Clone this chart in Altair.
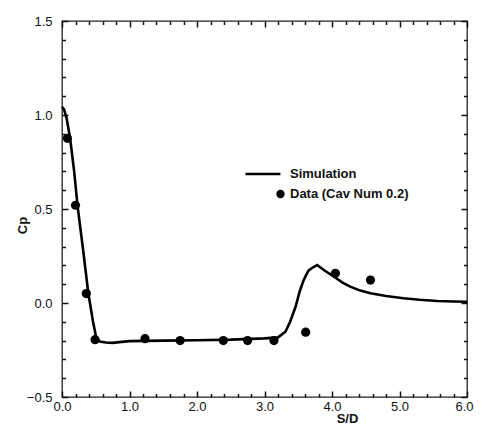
import altair as alt
import pandas as pd

# Simulation curve
sim_x = [0.0, 0.03, 0.07, 0.12, 0.18, 0.23, 0.31, 0.39, 0.46, 0.51, 0.56, 0.65, 0.75,
         0.85, 1.0, 1.5, 2.0, 2.5, 3.0, 3.2, 3.31, 3.38, 3.46, 3.52, 3.58, 3.65, 3.72,
         3.78, 3.9, 4.03, 4.15, 4.27, 4.42, 4.57, 4.8, 5.06, 5.3, 5.56, 5.8, 6.0]
sim_y = [1.044, 1.03, 0.98, 0.876, 0.70, 0.518, 0.29, 0.052, -0.10, -0.19, -0.205, -0.21,
         -0.212, -0.208, -0.203, -0.20, -0.198, -0.195, -0.188, -0.183, -0.153, -0.10,
         -0.02, 0.06, 0.122, 0.172, 0.19, 0.202, 0.17, 0.140, 0.11, 0.087, 0.066, 0.052,
         0.037, 0.025, 0.017, 0.011, 0.008, 0.007]

# Experimental data points
data_x = [0.08, 0.20, 0.36, 0.49, 1.23, 1.75, 2.39, 2.75, 3.14, 3.61, 4.05, 4.57]
data_y = [0.876, 0.52, 0.05, -0.195, -0.19, -0.20, -0.20, -0.20, -0.20, -0.155, 0.158, 0.122]

series = ["Simulation", "Data (Cav Num 0.2)"]

x_major = [0.0, 1.0, 2.0, 3.0, 4.0, 5.0, 6.0]
x_minor = [round(i * 0.2, 1) for i in range(31) if i % 5 != 0]
y_major = [-0.5, 0.0, 0.5, 1.0, 1.5]
y_minor = [round(-0.5 + i * 0.1, 1) for i in range(21) if i % 5 != 0]

sim_df = pd.DataFrame({"x": sim_x, "y": sim_y})
pts_df = pd.DataFrame({"x": data_x, "y": data_y, "series": series[1]})

FONT = "Liberation Sans"
INK = "#111111"
xs = alt.Scale(domain=[0, 6], nice=False, zero=False)
ys = alt.Scale(domain=[-0.5, 1.5], nice=False, zero=False)

MAJOR = 6
MINOR = 3.5


def tick_axis(orient, values, size):
    return alt.Axis(values=values, orient=orient, offset=-size, tickSize=size,
                    tickWidth=1.5, tickColor=INK, labels=False, title="",
                    domain=False, grid=False)


x_bottom_major = alt.Axis(values=x_major, format=".1f", orient="bottom", offset=-MAJOR,
                          tickSize=MAJOR, tickWidth=1.5, tickColor=INK, domain=False,
                          grid=False, labelFlush=False,
                          labelPadding=3, labelFont=FONT, labelFontSize=13, labelColor=INK,
                          labelOffset={"condition": {"test": "datum.value == 6", "value": -3},
                                       "value": 0},
                          title="S/D", titleFont=FONT, titleFontSize=13, titleFontWeight="bold",
                          titleColor=INK, titleX=285, titleY=27, titleAlign="center",
                          titleBaseline="middle")
y_left_major = alt.Axis(values=y_major, format=".1f", orient="left", offset=-MAJOR,
                        tickSize=MAJOR, tickWidth=1.5, tickColor=INK, domain=False,
                        grid=False, labelFlush=False,
                        labelPadding=10, labelFont=FONT, labelFontSize=13, labelColor=INK,
                        title="Cp", titleFont=FONT, titleFontSize=13, titleFontWeight="bold",
                        titleColor=INK, titleX=-46, titleY=204, titleAngle=270,
                        titleAlign="center", titleBaseline="middle")

line = alt.Chart(sim_df).mark_line(color="black", strokeWidth=2.6).encode(
    x=alt.X("x:Q", scale=xs, axis=x_bottom_major),
    y=alt.Y("y:Q", scale=ys, axis=y_left_major),
)

points = alt.Chart(pts_df).mark_point(filled=True, color="black", size=85, opacity=1).encode(
    x=alt.X("x:Q", scale=xs, axis=tick_axis("bottom", x_minor, MINOR)),
    y=alt.Y("y:Q", scale=ys, axis=tick_axis("left", y_minor, MINOR)),
)

# legend glyphs (unit-square paths, drawn with a stroke): a line, and a solid dot
line_path = "M-1.58,0H2.1"
circle_path = ("M1.80,0A0.305,0.305,0,1,1,2.41,0A0.305,0.305,0,1,1,1.80,0Z"
               "M1.98,0A0.125,0.125,0,1,1,2.23,0A0.125,0.125,0,1,1,1.98,0Z")

legend_layer = alt.Chart(pts_df).mark_point(filled=False, color="black", opacity=1,
                                            strokeWidth=2.5).encode(
    x=alt.X("x:Q", scale=xs, axis=tick_axis("top", x_major, MAJOR)),
    y=alt.Y("y:Q", scale=ys, axis=tick_axis("right", y_major, MAJOR)),
    shape=alt.Shape("series:N",
                    scale=alt.Scale(domain=series, range=[line_path, circle_path]),
                    legend=alt.Legend(title=None, orient="none", legendX=187.5, legendY=142,
                                      symbolSize=361, symbolStrokeWidth=2.5,
                                      symbolStrokeColor="black",
                                      symbolOpacity=1,
                                      labelFont=FONT, labelFontSize=13, labelFontWeight="bold",
                                      labelColor=INK, labelOffset=18.5, labelLimit=400,
                                      rowPadding=2, padding=0, symbolOffset=0)),
).transform_filter("false")

extra = alt.Chart(pts_df).mark_point(opacity=0).encode(
    x=alt.X("x:Q", scale=xs, axis=tick_axis("top", x_minor, MINOR)),
    y=alt.Y("y:Q", scale=ys, axis=tick_axis("right", y_minor, MINOR)),
).transform_filter("false")

chart = alt.layer(line, points, legend_layer, extra).resolve_axis(
    x="independent", y="independent"
).properties(
    width=405, height=376,
    autosize=alt.AutoSizeParams(type="none"),
    padding={"left": 54, "top": 13, "right": 7, "bottom": 33},
    background="white",
).configure_view(stroke="#222222", strokeWidth=1.3)

chart.save("out.html", embed_options={"renderer": "svg", "actions": False})
